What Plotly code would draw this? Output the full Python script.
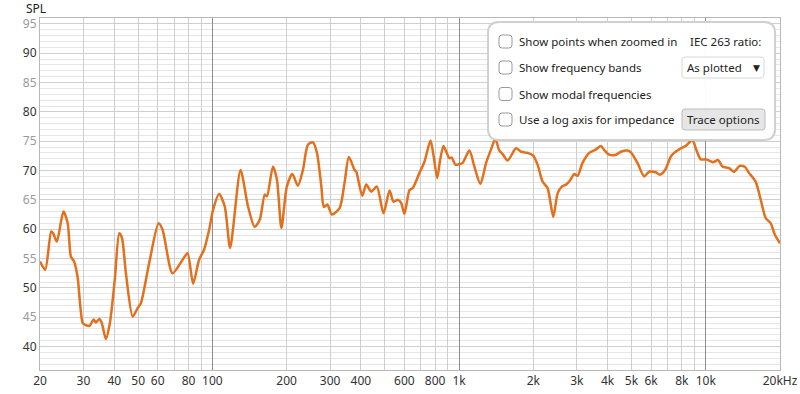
import plotly.graph_objects as go

# ---------------- data ----------------
freq = [20, 21, 22.2, 22.6, 23.4, 24.9, 25.9, 26.7, 27.5, 28.4, 29.8, 30.5, 31.7, 33.0, 33.7,
        34.8, 35.6, 37.0, 38.4, 40.2, 41.9, 43.0, 44.6, 47.5, 49.7, 51.3, 55.4, 60.5, 62.8,
        68.9, 75.7, 79.3, 83.5, 88.3, 92.5, 97, 100.6, 106.4, 112.2, 118, 130, 139.4, 148.4,
        155.6, 163, 166.4, 176, 182.7, 190.4, 200.4, 211, 222, 232.8, 243.9, 255.6, 265.4,
        276.4, 283, 292.4, 305, 327.8, 343.3, 357.4, 377, 383, 405, 420.4, 440.5, 464, 493.8,
        522.5, 542, 564, 582, 600.6, 629.6, 649, 691, 724, 765.6, 789, 815, 838, 864, 891, 914,
        934, 966, 1003, 1034, 1101, 1153, 1220, 1287, 1348, 1403, 1456, 1502, 1574, 1702, 1784,
        1897, 2000, 2081, 2181, 2285, 2410, 2509, 2614, 2714, 2817, 2931, 3023, 3166, 3370,
        3588, 3758, 3876, 4062, 4324, 4529, 4818, 4972, 5286, 5627, 5898, 6279, 6516, 6846,
        7220, 7446, 7800, 8305, 8830, 9162, 9550, 10000, 10320, 10710, 11220, 11680, 12430,
        13030, 13730, 14430, 14970, 15930, 16710, 17500, 18340, 19090, 20000]
spl = [54.5, 53.1, 59.6, 59.3, 57.9, 63.0, 61.0, 55.3, 54.5, 51.9, 44.0, 43.7, 43.5, 44.6, 44.1,
       44.7, 44.0, 41.3, 44.0, 51.4, 59.3, 58.5, 52.5, 45.1, 46.5, 47.4, 54.2, 61.0, 59.9,
       52.5, 54.8, 55.9, 50.7, 54.8, 56.5, 59.9, 63.3, 66.0, 63.9, 56.8, 70.1, 63.9, 60.4,
       61.6, 65.9, 65.6, 70.7, 68.4, 60.2, 67.3, 69.4, 67.4, 70.1, 74.4, 74.8, 73.0,
       67.3, 63.8, 64.2, 62.5, 63.6, 67.9, 72.3, 70.1, 69.8, 65.7, 67.6, 66.4, 67.3, 62.7,
       66.6, 64.7, 65.0, 64.5, 62.6, 66.7, 67.0, 69.6, 71.5, 75.1, 72.4, 68.7, 71.8, 74.2, 73.0, 72.1,
       72.2, 71.0, 71.1, 71.3, 73.4, 70.7, 67.7, 71.3, 73.6, 75.4, 73.4, 72.8, 71.7, 73.8, 73.2,
       73.0, 72.5, 71.0, 68.1, 67.0, 62.1, 66.1, 67.3, 67.6, 68.3, 69.4, 69.1, 71.3, 73.0,
       73.6, 74.2, 73.5, 72.7, 72.7, 73.2, 73.4, 73.1, 71.3, 69.0, 69.8, 69.7, 69.3, 70.1,
       72.4, 73.0, 73.6, 74.2, 75.2, 73.5, 71.9, 71.9, 71.7, 71.4, 71.8, 70.7, 70.4,
       69.8, 70.8, 70.6, 69.6, 68.1, 65.0, 61.9, 61.0, 59.0, 57.6]

y_ticks = [40, 45, 50, 55, 60, 65, 70, 75, 80, 85, 90, 95]
x_grid = [20, 30, 40, 50, 60, 70, 80, 90, 100, 200, 300, 400, 500, 600, 700, 800, 900,
          1000, 2000, 3000, 4000, 5000, 6000, 7000, 8000, 9000, 10000, 20000]
x_labels = {20: "20", 30: "30", 40: "40", 50: "50", 60: "60", 80: "80", 100: "100",
            200: "200", 300: "300", 400: "400", 600: "600", 800: "800", 1000: "1k",
            2000: "2k", 3000: "3k", 4000: "4k", 5000: "5k", 6000: "6k", 8000: "8k",
            10000: "10k", 20000: "20kHz"}
decades = [100, 1000, 10000]

W, H = 800, 394
L, R, T, B = 40, 20, 18, 24
FONT = "Noto Sans"
UI = 11.5

def ytext(v):
    c = "#333333" if v % 10 == 0 else "#999999"
    return f"<span style='color:{c}'>{v}</span>"

fig = go.Figure()
fig.add_trace(go.Scatter(x=freq, y=spl, mode="lines",
                         line=dict(color="#E2701C", width=2.5, shape="spline", smoothing=0.7),
                         hoverinfo="skip", showlegend=False))
# dummy trace for the overlay axis carrying the darker decade lines
fig.add_trace(go.Scatter(x=[20, 20000], y=[None, None], xaxis="x2", mode="lines",
                         showlegend=False, hoverinfo="skip"))

fig.update_layout(
    width=W, height=H,
    margin=dict(l=L, r=R, t=T, b=B),
    paper_bgcolor="white", plot_bgcolor="white",
    font=dict(family=FONT, size=12, color="#333333"),
    xaxis=dict(type="log", range=[1.30103, 4.30103], automargin=False,
               tickmode="array", tickvals=x_grid,
               ticktext=[x_labels.get(v, "") for v in x_grid],
               showgrid=True, gridcolor="#cfcfcf", gridwidth=1,
               ticks="", showline=True, linecolor="#b8b8b8", mirror=True,
               tickfont=dict(size=12, color="#333333"), zeroline=False),
    xaxis2=dict(type="log", range=[1.30103, 4.30103], overlaying="x", automargin=False,
                tickmode="array", tickvals=decades, showticklabels=False,
                showgrid=True, gridcolor="#8c8c8c", gridwidth=1, ticks="", showline=False,
                zeroline=False),
    yaxis=dict(range=[36, 96], tickmode="array", tickvals=y_ticks, automargin=False,
               ticktext=[ytext(v) for v in y_ticks],
               showgrid=True, gridcolor="#cfcfcf", gridwidth=1,
               minor=dict(dtick=1, showgrid=True, gridcolor="#e6e6e6", gridwidth=1),
               ticks="", showline=True, linecolor="#b8b8b8", mirror=True,
               tickfont=dict(size=12), zeroline=False),
)

# ---------------- overlay panel (UI chrome) ----------------
pw, ph = W - L - R, H - T - B
def px(x):
    return (x - L) / pw
def py(y):
    return (H - B - y) / ph

def rrect(x0, y0, x1, y1, r):
    rx, ry = r / pw, r / ph
    a0, a1 = px(x0), px(x1)
    b0, b1 = py(y1), py(y0)  # bottom, top in paper
    return (f"M {a0+rx},{b0} L {a1-rx},{b0} Q {a1},{b0} {a1},{b0+ry} "
            f"L {a1},{b1-ry} Q {a1},{b1} {a1-rx},{b1} L {a0+rx},{b1} "
            f"Q {a0},{b1} {a0},{b1-ry} L {a0},{b0+ry} Q {a0},{b0} {a0+rx},{b0} Z")

shapes = []
shapes.append(dict(type="path", xref="paper", yref="paper", layer="above",
                   path=rrect(488, 22, 775, 140, 11),
                   fillcolor="rgba(255,255,255,0.97)", line=dict(color="#d0d0d0", width=2)))
rows = [("Show points when zoomed in", 41.5), ("Show frequency bands", 67.5),
        ("Show modal frequencies", 94), ("Use a log axis for impedance", 119.5)]
annos = []
for txt, yc in rows:
    shapes.append(dict(type="path", xref="paper", yref="paper", layer="above",
                       path=rrect(499, yc - 6.5, 512, yc + 6.5, 3),
                       fillcolor="white", line=dict(color="#9a9a9a", width=1)))
    annos.append(dict(x=px(517), y=py(yc), xref="paper", yref="paper", text=txt,
                      showarrow=False, xanchor="left", yanchor="middle",
                      font=dict(family=FONT, size=UI, color="#222222")))
annos.append(dict(x=px(688), y=py(41.5), xref="paper", yref="paper", text="IEC 263 ratio:",
                  showarrow=False, xanchor="left", yanchor="middle",
                  font=dict(family=FONT, size=UI, color="#222222")))
# dropdown
shapes.append(dict(type="path", xref="paper", yref="paper", layer="above",
                   path=rrect(682, 57, 764, 78, 3),
                   fillcolor="white", line=dict(color="#d8d8d8", width=1)))
annos.append(dict(x=px(685), y=py(67.5), xref="paper", yref="paper", text="As plotted",
                  showarrow=False, xanchor="left", yanchor="middle",
                  font=dict(family=FONT, size=UI, color="#222222")))
annos.append(dict(x=px(756), y=py(67.5), xref="paper", yref="paper", text="▼",
                  showarrow=False, xanchor="center", yanchor="middle",
                  font=dict(family="DejaVu Sans", size=9, color="#222222")))
# button
shapes.append(dict(type="path", xref="paper", yref="paper", layer="above",
                   path=rrect(682, 109, 765, 130, 3),
                   fillcolor="#e6e6e6", line=dict(color="#bdbdbd", width=1)))
annos.append(dict(x=px(723.5), y=py(119.5), xref="paper", yref="paper", text="Trace options",
                  showarrow=False, xanchor="center", yanchor="middle",
                  font=dict(family=FONT, size=UI, color="#222222")))
# y axis title
annos.append(dict(x=px(36), y=py(8), xref="paper", yref="paper", text="SPL",
                  showarrow=False, xanchor="center", yanchor="middle",
                  font=dict(family=FONT, size=12, color="#222222")))

fig.update_layout(shapes=shapes, annotations=annos)
fig.write_html("out.html", config={"displayModeBar": False},
               post_script="document.body.style.margin='0';document.body.style.padding='0';"
                           "document.body.style.overflow='hidden';")
